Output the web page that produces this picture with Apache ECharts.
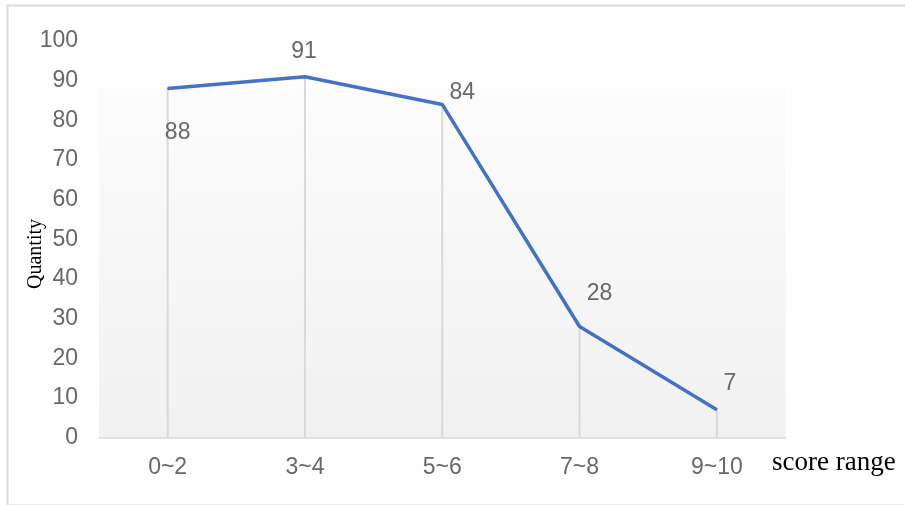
<!DOCTYPE html>
<html>
<head>
<meta charset="utf-8">
<script src="https://cdn.jsdelivr.net/npm/echarts@6/dist/echarts.min.js"></script>
<style>
  html, body { margin: 0; padding: 0; background: #ffffff; }
  #chart { width: 905px; height: 505px; }
</style>
</head>
<body>
<div id="chart"></div>
<script>
// Score distribution: number of entries in each score range
const categories = ['0~2', '3~4', '5~6', '7~8', '9~10'];
const quantities = [88, 91, 84, 28, 7];
const yTicks = { min: 0, max: 100, interval: 10 };

// Where each value label sits relative to its point (styling only)
const labelOffsets = [[10, 44], [-1, -25], [20, -12], [20, -33], [13, -26]];

const sansFont = '"Liberation Sans", Arial, sans-serif';
const serifFont = '"Liberation Serif", "Times New Roman", serif';
const textGray = '#686868';
const lineBlue = '#4472C4';

const chart = echarts.init(document.getElementById('chart'), null, { renderer: 'canvas' });

chart.setOption({
  animation: false,
  backgroundColor: '#ffffff',
  graphic: [
    {
      type: 'rect',
      left: 5, top: 3,
      shape: { width: 920, height: 500 },
      style: { fill: 'none', stroke: '#d9d9d9', lineWidth: 2 },
      silent: true, z: -10
    },
    {
      // y-axis title, rotated to read bottom-to-top
      type: 'text',
      x: 36, y: 254,
      rotation: Math.PI / 2,
      style: {
        text: 'Quantity', font: '20px ' + serifFont, fill: '#000000',
        align: 'center', verticalAlign: 'middle'
      }
    },
    {
      type: 'text',
      left: 772, top: 449,
      style: { text: 'score range', font: '27px ' + serifFont, fill: '#000000' }
    }
  ],
  grid: {
    left: 99, right: 119.5, top: 41, bottom: 67.5,
    show: true,
    borderWidth: 0,
    backgroundColor: new echarts.graphic.LinearGradient(0, 0, 0, 1, [
      { offset: 0, color: '#ffffff' },
      { offset: 0.114, color: '#ffffff' },
      { offset: 0.118, color: '#fcfcfc' },
      { offset: 1, color: '#f1f1f1' }
    ])
  },
  xAxis: {
    type: 'category',
    data: categories,
    boundaryGap: true,
    axisLine: { show: true, lineStyle: { color: '#d9d9d9', width: 1.5 } },
    axisTick: { show: false },
    axisLabel: { color: textGray, fontFamily: sansFont, fontSize: 23, margin: 19 },
    splitLine: { show: false }
  },
  yAxis: {
    type: 'value',
    min: yTicks.min, max: yTicks.max, interval: yTicks.interval,
    axisLine: { show: false },
    axisTick: { show: false },
    axisLabel: { color: textGray, fontFamily: sansFont, fontSize: 23, margin: 21 },
    splitLine: { show: false }
  },
  series: [
    {
      // thin drop lines from each point down to the axis
      type: 'bar',
      data: quantities,
      barWidth: 2,
      itemStyle: { color: '#d9d9d9' },
      silent: true,
      z: 1
    },
    {
      type: 'line',
      data: quantities.map((v, i) => ({
        value: v,
        label: { offset: labelOffsets[i] }
      })),
      symbol: 'circle',
      symbolSize: 1,
      itemStyle: { color: lineBlue },
      lineStyle: { color: lineBlue, width: 3.5 },
      label: {
        show: true,
        position: 'inside',
        color: textGray,
        fontFamily: sansFont,
        fontSize: 23
      },
      z: 3
    }
  ]
});
</script>
</body>
</html>
